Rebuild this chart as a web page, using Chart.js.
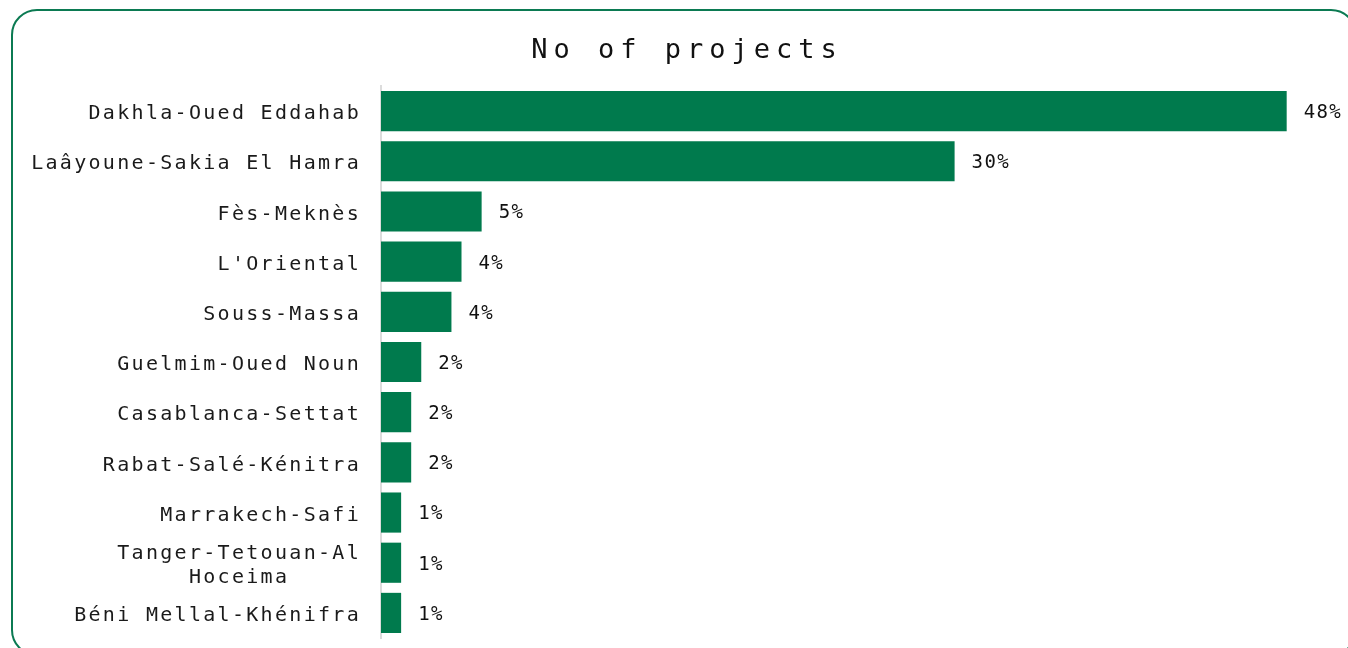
<!DOCTYPE html>
<html>
<head>
<meta charset="utf-8">
<script src="https://cdn.jsdelivr.net/npm/chart.js@4.4.1/dist/chart.umd.min.js"></script>
<style>
    html, body { margin: 0; padding: 0; background: #fff; overflow: hidden; }
    #wrap { position: relative; width: 1348px; height: 648px; }
    #frame {
        position: absolute; left: 11px; top: 9px; width: 1346px; height: 647px;
        box-sizing: border-box; border: 2px solid #0b7a52; border-radius: 26px;
    }
    canvas { position: absolute; left: 0; top: 0; }
</style>
</head>
<body>
<div id="wrap">
    <div id="frame"></div>
    <canvas id="chart" width="1348" height="648"></canvas>
</div>
<script>
const TITLE = 'No of projects';

const regions = [
    'Dakhla-Oued Eddahab',
    'Laâyoune-Sakia El Hamra',
    'Fès-Meknès',
    "L'Oriental",
    'Souss-Massa',
    'Guelmim-Oued Noun',
    'Casablanca-Settat',
    'Rabat-Salé-Kénitra',
    'Marrakech-Safi',
    ['Tanger-Tetouan-Al', 'Hoceima     '],
    'Béni Mellal-Khénifra'
];

// project counts
const projects = [90, 57, 10, 8, 7, 4, 3, 3, 2, 2, 2];

const shareLabels = ['48%', '30%', '5%', '4%', '4%', '2%', '2%', '2%', '1%', '1%', '1%'];

const FONT = '"DejaVu Sans Mono", monospace';

// letter spacing for tick labels, and a small downward nudge for them
// (ticks are on z 1 so they draw after the bars)
const spacing = {
    id: 'spacing',
    beforeLayout(chart) { chart.ctx.letterSpacing = '2.3px'; },
    beforeDraw(chart) { chart.ctx.letterSpacing = '2.3px'; },
    afterDatasetsDraw(chart) {
        chart.ctx.save();
        chart.ctx.translate(0, 3);
    }
};

const extras = {
    id: 'extras',
    afterDraw(chart) {
        let ctx = chart.ctx;
        ctx.restore();
        ctx.save();
        ctx.fillStyle = '#111';
        ctx.textBaseline = 'middle';

        // title
        ctx.letterSpacing = '6px';
        ctx.font = '27px ' + FONT;
        ctx.textAlign = 'center';
        ctx.fillText(TITLE, chart.width / 2 + 13, 51);

        // value labels at the end of each bar
        ctx.letterSpacing = '1.4px';
        ctx.font = '19px ' + FONT;
        ctx.textAlign = 'left';
        chart.getDatasetMeta(0).data.forEach((bar, i) => {
            ctx.fillText(shareLabels[i], bar.x + 17, bar.y + 2);
        });
        ctx.restore();
    }
};

new Chart(document.getElementById('chart'), {
    type: 'bar',
    data: {
        labels: regions,
        datasets: [{
            data: projects,
            backgroundColor: '#007a4d',
            borderWidth: 0,
            barPercentage: 0.8,
            categoryPercentage: 1
        }]
    },
    options: {
        indexAxis: 'y',
        responsive: false,
        animation: false,
        layout: { padding: { left: 32, right: 11, top: 86, bottom: 10 } },
        plugins: {
            legend: { display: false },
            title: { display: false },
            tooltip: { enabled: false }
        },
        scales: {
            x: { display: false, min: 0, max: 95 },
            y: {
                afterFit(scale) {
                    scale.width = 349;
                    scale.paddingTop = 0;
                    scale.paddingBottom = 0;
                },
                grid: { display: false, drawTicks: false },
                border: { display: true, color: '#dcdcdc', width: 2, z: 0 },
                ticks: {
                    z: 1,
                    autoSkip: false,
                    padding: 20,
                    color: '#1a1a1a',
                    font: { family: FONT, size: 20, lineHeight: 1.2 }
                }
            }
        }
    },
    plugins: [spacing, extras]
});
</script>
</body>
</html>
